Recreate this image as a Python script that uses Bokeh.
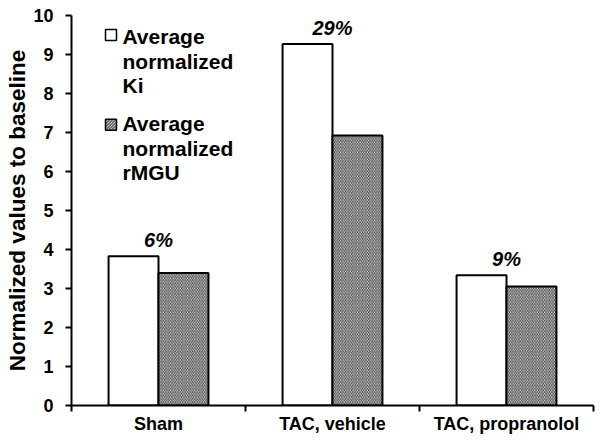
from bokeh.plotting import figure
from bokeh.models import FixedTicker, Range1d
from bokeh.core.properties import value
from bokeh.embed import file_html
from bokeh.resources import INLINE

# ---- data ----
categories = ["Sham", "TAC, vehicle", "TAC, propranolol"]
ki_values = [3.83, 9.27, 3.34]
rmgu_values = [3.40, 6.92, 3.05]
pct_labels = ["6%", "29%", "9%"]
legend_ki = ["Average", "normalized", "Ki"]
legend_rmgu = ["Average", "normalized", "rMGU"]
y_ticks = list(range(0, 11))

FONT = "Liberation Sans"

centers = [i + 0.5 for i in range(len(categories))]
bar_w = 0.287
ki_x = [c - bar_w / 2 for c in centers]
rm_x = [c + bar_w / 2 for c in centers]

p = figure(width=601, height=443, output_backend="svg", toolbar_location=None,
           x_range=Range1d(0, 3), y_range=Range1d(0, 10),
           min_border_left=71, min_border_right=8, min_border_top=15, min_border_bottom=38)
p.outline_line_color = None
p.xgrid.visible = False
p.ygrid.visible = False

# bars
p.vbar(x=ki_x, top=ki_values, bottom=0, width=bar_w, fill_color="white",
       line_color="black", line_width=2)
p.vbar(x=rm_x, top=rmgu_values, bottom=0, width=bar_w, fill_color="white",
       line_color="black", line_width=2, hatch_pattern="\\", hatch_color="#3c3c3c",
       hatch_scale=3.4, hatch_weight=1)

# percentage labels
p.text(x=centers, y=ki_values, text=pct_labels, text_align="center",
       text_baseline="alphabetic", y_offset=-16, text_font=value(FONT),
       text_font_style="bold italic", text_font_size="20px", text_color="black")

# y axis
ya = p.yaxis[0]
ya.ticker = FixedTicker(ticks=y_ticks)
ya.axis_label = "Normalized values to baseline"
ya.axis_label_text_font = FONT
ya.axis_label_text_font_style = "bold"
ya.axis_label_text_font_size = "22.5px"
ya.axis_label_text_color = "black"
ya.axis_label_standoff = 0
ya.major_label_text_font = FONT
ya.major_label_text_font_style = "bold"
ya.major_label_text_font_size = "18px"
ya.major_label_text_color = "black"
ya.major_label_standoff = 12
ya.axis_line_width = 2
ya.axis_line_color = "black"
ya.major_tick_line_width = 2
ya.major_tick_out = 6
ya.major_tick_in = 0
ya.minor_tick_line_color = None

# x axis
xa = p.xaxis[0]
xa.ticker = FixedTicker(ticks=centers, minor_ticks=[0, 1, 2, 3])
xa.major_label_overrides = {c: cat for c, cat in zip(centers, categories)}
xa.major_label_text_font = FONT
xa.major_label_text_font_style = "bold"
xa.major_label_text_font_size = "18px"
xa.major_label_text_color = "black"
xa.major_label_standoff = 2
xa.axis_line_width = 2
xa.axis_line_color = "black"
xa.major_tick_line_color = None
xa.minor_tick_line_width = 2
xa.minor_tick_out = 6
xa.minor_tick_in = 0

# legend (manual)
p.rect(x=[0.227], y=[9.5], width=11, height=11, width_units="screen",
       height_units="screen", fill_color="white", line_color="black", line_width=1.5)
p.rect(x=[0.227], y=[7.2], width=11, height=11, width_units="screen",
       height_units="screen", fill_color="white", line_color="black", line_width=1.5,
       hatch_pattern="\\", hatch_color="#3c3c3c", hatch_scale=3, hatch_weight=1)
line_step = 0.628
p.text(x=[0.293] * 3, y=[9.45 - i * line_step for i in range(3)], text=legend_ki,
       text_align="left", text_baseline="alphabetic", text_font=value(FONT),
       text_font_style="bold", text_font_size="21px", text_color="black")
p.text(x=[0.293] * 3, y=[7.23 - i * line_step for i in range(3)], text=legend_rmgu,
       text_align="left", text_baseline="alphabetic", text_font=value(FONT),
       text_font_style="bold", text_font_size="21px", text_color="black")

open("out.html", "w").write(file_html(p, INLINE))
